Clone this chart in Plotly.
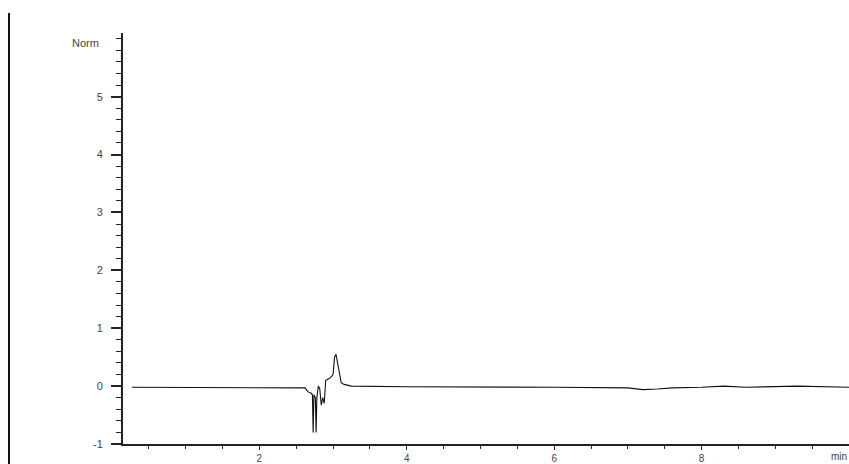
import plotly.graph_objects as go

# Retention time (min) and detector signal (Norm.)
time_min = [0.27, 1.0, 2.0, 2.55, 2.62, 2.66, 2.70, 2.72, 2.73, 2.74, 2.76, 2.77, 2.78,
            2.80, 2.82, 2.84, 2.86, 2.88, 2.90, 2.93, 2.97, 3.00, 3.02, 3.04, 3.06,
            3.08, 3.11, 3.15, 3.25, 4.0, 5.0, 6.0, 7.0, 7.2, 7.4, 7.6, 8.0, 8.3,
            8.6, 9.0, 9.3, 10.0]
signal = [-0.02, -0.02, -0.02, -0.02, -0.03, -0.10, -0.12, -0.15, -0.80, -0.15, -0.20, -0.80, -0.20,
          0.00, -0.05, -0.33, -0.20, -0.30, 0.10, 0.12, 0.15, 0.20, 0.50, 0.55, 0.40,
          0.22, 0.06, 0.03, 0.00, -0.01, -0.01, -0.02, -0.03, -0.06, -0.05, -0.03, -0.02, 0.00,
          -0.02, -0.01, 0.00, -0.02]

x_tickvals = [2, 4, 6, 8]
x_ticktext = ["2", "4", "6", "8"]
y_tickvals = [-1, 0, 1, 2, 3, 4, 5]
y_ticktext = ["-1", "0", "1", "2", "3", "4", "5"]

W, H = 849, 464
L, R, T, B = 123, 0, 33, 20
pw, ph = W - L - R, H - T - B

fig = go.Figure()
fig.add_trace(go.Scatter(x=time_min, y=signal, mode="lines",
                         line=dict(color="#111111", width=1.1), showlegend=False))

FAM = "Liberation Sans, Arial, sans-serif"
font = dict(family=FAM, size=11, color="#444444")
xfont = dict(family=FAM, size=10, color="#444444")

fig.update_layout(
    width=W, height=H,
    margin=dict(l=L, r=R, t=T, b=B, pad=0),
    paper_bgcolor="white", plot_bgcolor="white",
    font=font,
    xaxis=dict(range=[0.15, 10.0], showgrid=False, zeroline=False,
               showline=True, linecolor="#222222", linewidth=2,
               ticks="outside", ticklen=4, tickcolor="#222222", tickwidth=1,
               tickvals=x_tickvals, ticktext=x_ticktext, tickfont=xfont,
               automargin=False,
               minor=dict(dtick=0.5, tick0=0, ticks="outside", ticklen=3,
                          tickcolor="#222222", tickwidth=1, showgrid=False)),
    yaxis=dict(range=[-1.0, 6.1], showgrid=False, zeroline=False,
               showline=True, linecolor="#222222", linewidth=2,
               ticks="outside", ticklen=10, tickcolor="#222222", tickwidth=1.5,
               tickvals=y_tickvals, ticktext=y_ticktext, tickfont=font,
               ticklabelstandoff=6, automargin=False,
               minor=dict(dtick=0.2, tick0=0, ticks="outside", ticklen=5,
                          tickcolor="#222222", tickwidth=1, showgrid=False)),
    annotations=[
        dict(text="Norm", xref="paper", yref="paper",
             x=(101 - L) / pw, y=(H - B - 43) / ph, xanchor="right", yanchor="middle",
             showarrow=False, font=font),
        dict(text="min", xref="paper", yref="paper",
             x=1.0, y=(H - B - 456) / ph, xanchor="right", yanchor="middle",
             showarrow=False, font=xfont),
    ],
    shapes=[
        dict(type="line", xref="paper", yref="paper",
             x0=(9 - L) / pw, x1=(9 - L) / pw,
             y0=(H - B - 13) / ph, y1=(H - B - H) / ph,
             line=dict(color="#111111", width=2)),
    ],
)

fig.write_html("out.html", config={"displayModeBar": False},
               post_script="document.body.style.margin='0';document.body.style.overflow='hidden';")
